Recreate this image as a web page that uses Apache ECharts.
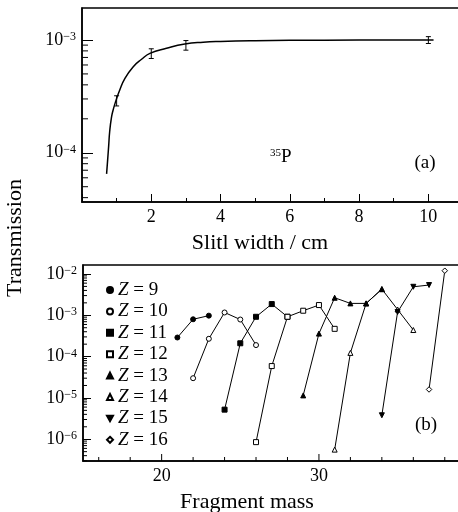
<!DOCTYPE html>
<html>
<head>
<meta charset="utf-8">
<title>Transmission</title>
<script src="https://cdn.jsdelivr.net/npm/echarts@6/dist/echarts.min.js"></script>
<style>
body { margin: 0; background: #fff; }
#main { width: 458px; height: 512px; }
</style>
</head>
<body>
<div id="main"></div>
<script>
var FONT = "'Liberation Serif', 'Times New Roman', serif";

// (a) slit width scan for 35P
var slitWidth = [1, 2, 3, 10];
var slitTrans = [2.9e-4, 7.6e-4, 9.0e-4, 1.0e-3];
var slitErr = [0.3e-4, 0.75e-4, 0.88e-4, 0.7e-4];
var curveWidth = [0.71, 0.74, 0.77, 0.8, 0.85, 0.9, 0.97, 1.09, 1.24, 1.48, 1.72, 1.96, 2.44, 2.97, 3.5, 4, 5, 6, 8, 10.15];
var curveTrans = [6.5e-5, 8.6e-5, 1.15e-4, 1.55e-4, 2.05e-4, 2.4e-4, 2.84e-4, 3.6e-4, 4.57e-4, 5.8e-4, 6.74e-4, 7.6e-4, 8.44e-4, 9.2e-4, 9.55e-4, 9.7e-4, 9.85e-4, 9.92e-4, 9.97e-4, 1.0e-3];

// (b) transmission vs fragment mass, one list per Z
var zNames = ['Z = 9', 'Z = 10', 'Z = 11', 'Z = 12', 'Z = 13', 'Z = 14', 'Z = 15', 'Z = 16'];
var z9 = [[21, 2.9e-4], [22, 8.0e-4], [23, 9.8e-4]];
var z10 = [[22, 3.0e-5], [23, 2.7e-4], [24, 1.17e-3], [25, 7.9e-4], [26, 1.9e-4]];
var z11 = [[24, 5.2e-6], [25, 2.1e-4], [26, 9.2e-4], [27, 1.87e-3], [28, 9.2e-4]];
var z12 = [[26, 8.5e-7], [27, 5.9e-5], [28, 9.2e-4], [29, 1.29e-3], [30, 1.77e-3], [31, 4.7e-4]];
var z13 = [[29, 1.15e-5], [30, 3.6e-4], [31, 2.66e-3], [32, 1.94e-3], [33, 1.94e-3], [34, 4.3e-3]];
var z14 = [[31, 5.6e-7], [32, 1.23e-4], [33, 1.94e-3], [34, 4.3e-3], [35, 1.38e-3], [36, 4.4e-4]];
var z15 = [[34, 3.8e-6], [35, 1.2e-3], [36, 4.9e-3], [37, 5.4e-3]];
var z16 = [[37, 1.6e-5], [38, 1.2e-2]];
var zData = [z9, z10, z11, z12, z13, z14, z15, z16];

// ticks the axes can't draw by themselves
var topMinorY = [4e-5, 5e-5, 6e-5, 7e-5, 8e-5, 9e-5, 2e-4, 3e-4, 4e-4, 5e-4, 6e-4, 7e-4, 8e-4, 9e-4];
var botMinorY = [];
[-7, -6, -5, -4, -3].forEach(function (e) {
  for (var m = 2; m <= 9; m++) {
    var v = m * Math.pow(10, e);
    if (v > 2.97e-7 && v < 1.65e-2) botMinorY.push(v);
  }
});
var botXTicks = [16, 18, 20, 22, 24, 26, 28, 30, 32, 34, 36, 38];

var downTri = 'path://M0,0L10,0L5,9Z';
var zSymbols = ['circle', 'circle', 'rect', 'rect', 'triangle', 'triangle', downTri, 'diamond'];
var zFilled = [true, false, true, false, true, false, true, false];

function powLabel(v) {
  var e = Math.log10(v);
  var r = Math.round(e);
  if (Math.abs(e - r) > 1e-6) return '';
  return '10{s|\u2212' + (-r) + '}';
}

var labelStyle = {
  color: '#000', fontFamily: FONT, fontSize: 18,
  rich: { s: { fontSize: 12, fontFamily: FONT, color: '#000', verticalAlign: 'top' } }
};

function yTickSeries(xi, yi, x0, vals, len) {
  return {
    type: 'custom', xAxisIndex: xi, yAxisIndex: yi, silent: true, clip: false, z: 5,
    data: vals.map(function (v) { return [x0, v]; }),
    renderItem: function (params, api) {
      var p = api.coord([api.value(0), api.value(1)]);
      return { type: 'line', shape: { x1: p[0], y1: p[1], x2: p[0] + len, y2: p[1] },
        style: { stroke: '#000', lineWidth: 1 } };
    }
  };
}

var series = [];

// fitted curve (a)
series.push({
  type: 'line', xAxisIndex: 0, yAxisIndex: 0, showSymbol: false, smooth: 0.5,
  data: curveWidth.map(function (x, i) { return [x, curveTrans[i]]; }),
  lineStyle: { color: '#000', width: 1.5 }, silent: true
});

// error bars (a)
series.push({
  type: 'custom', xAxisIndex: 0, yAxisIndex: 0, silent: true, z: 4,
  data: slitWidth.map(function (x, i) { return [x, slitTrans[i] - slitErr[i], slitTrans[i] + slitErr[i]]; }),
  renderItem: function (params, api) {
    var lo = api.coord([api.value(0), api.value(1)]);
    var hi = api.coord([api.value(0), api.value(2)]);
    var st = { stroke: '#000', lineWidth: 1 };
    return { type: 'group', children: [
      { type: 'line', shape: { x1: lo[0], y1: lo[1], x2: hi[0], y2: hi[1] }, style: st },
      { type: 'line', shape: { x1: lo[0] - 2.5, y1: lo[1], x2: lo[0] + 2.5, y2: lo[1] }, style: st },
      { type: 'line', shape: { x1: hi[0] - 2.5, y1: hi[1], x2: hi[0] + 2.5, y2: hi[1] }, style: st }
    ] };
  }
});

series.push(yTickSeries(0, 0, 0, topMinorY, 6));
series.push(yTickSeries(1, 1, 15, botMinorY, 4));

// x ticks (b)
series.push({
  type: 'custom', xAxisIndex: 1, yAxisIndex: 1, silent: true, clip: false, z: 5,
  data: botXTicks.map(function (v) { return [v, 2.97e-7]; }),
  renderItem: function (params, api) {
    var p = api.coord([api.value(0), api.value(1)]);
    var len = api.value(0) % 10 === 0 ? 7 : 4;
    return { type: 'line', shape: { x1: p[0], y1: p[1], x2: p[0], y2: p[1] - len },
      style: { stroke: '#000', lineWidth: 1 } };
  }
});

zNames.forEach(function (name, i) {
  series.push({
    name: name, type: 'line', xAxisIndex: 1, yAxisIndex: 1,
    data: zData[i], symbol: zSymbols[i], symbolSize: i === 7 ? 5.5 : 5,
    z: i === 4 ? 3 : 2,
    lineStyle: { color: '#000', width: 1 },
    itemStyle: { color: zFilled[i] ? '#000' : '#fff', borderColor: '#000', borderWidth: 1 },
    emphasis: { disabled: true }
  });
});

var axisLine = { show: true, lineStyle: { color: '#000', width: 1.5 } };

var option = {
  animation: false,
  grid: [
    { left: 82, top: 8, width: 381, height: 194, outerBoundsMode: 'none', containLabel: false,
      show: true, borderColor: '#000', borderWidth: 1.5 },
    { left: 83, top: 265, width: 377.5, height: 196, outerBoundsMode: 'none', containLabel: false,
      show: true, borderColor: '#000', borderWidth: 1.5 }
  ],
  xAxis: [
    {
      gridIndex: 0, type: 'value', min: 0, max: 11, interval: 2,
      axisLine: axisLine,
      axisTick: { inside: true, length: 8, lineStyle: { color: '#000' } },
      minorTick: { show: true, splitNumber: 2, length: 4, lineStyle: { color: '#000' } },
      axisLabel: { margin: 6, color: '#000', fontFamily: FONT, fontSize: 18,
        formatter: function (v) { return v > 0 && v <= 10 ? String(v) : ''; } },
      splitLine: { show: false }, minorSplitLine: { show: false }
    },
    {
      gridIndex: 1, type: 'value', min: 15, max: 39, interval: 5,
      axisLine: axisLine, axisTick: { show: false },
      axisLabel: { margin: 6, color: '#000', fontFamily: FONT, fontSize: 18,
        formatter: function (v) { return v % 10 === 0 ? String(v) : ''; } },
      splitLine: { show: false }
    }
  ],
  yAxis: [
    {
      gridIndex: 0, type: 'log', logBase: 10, min: 3.66e-5, max: 1.92e-3,
      axisLine: axisLine,
      axisTick: { inside: true, length: 11, lineStyle: { color: '#000' } },
      axisLabel: Object.assign({ margin: 6, formatter: powLabel, showMinLabel: false, showMaxLabel: false }, labelStyle),
      splitLine: { show: false }
    },
    {
      gridIndex: 1, type: 'log', logBase: 10, min: 2.97e-7, max: 1.65e-2,
      axisLine: axisLine,
      axisTick: { inside: true, length: 8, lineStyle: { color: '#000' } },
      axisLabel: Object.assign({ margin: 6, formatter: powLabel, showMinLabel: false, showMaxLabel: false }, labelStyle),
      splitLine: { show: false }
    }
  ],
  legend: {
    data: zNames.map(function (n, i) { return { name: n, icon: zSymbols[i] }; }),
    orient: 'vertical', left: 101, top: 275,
    itemWidth: 6, itemHeight: 6, itemGap: 1.4, selectedMode: false,
    formatter: function (n) { return '{i|Z}' + n.slice(1); },
    textStyle: {
      color: '#000', fontFamily: FONT, fontSize: 19, lineHeight: 20,
      rich: { i: { fontStyle: 'italic', fontFamily: FONT, fontSize: 19, color: '#000' } }
    }
  },
  graphic: [
    { type: 'text', x: 15, y: 238, rotation: Math.PI / 2,
      style: { text: 'Transmission', fontFamily: FONT, fontSize: 22, fill: '#000', align: 'center', verticalAlign: 'middle' } },
    { type: 'text', x: 260, y: 243,
      style: { text: 'Slitl width / cm', fontFamily: FONT, fontSize: 22, fill: '#000', align: 'center', verticalAlign: 'middle' } },
    { type: 'text', x: 247, y: 502,
      style: { text: 'Fragment mass', fontFamily: FONT, fontSize: 22, fill: '#000', align: 'center', verticalAlign: 'middle' } },
    { type: 'text', x: 270, y: 148,
      style: { text: '{s|35}P', fontFamily: FONT, fontSize: 19, fill: '#000',
        rich: { s: { fontSize: 11, fontFamily: FONT, verticalAlign: 'top', fill: '#000' } } } },
    { type: 'text', x: 425, y: 163,
      style: { text: '(a)', fontFamily: FONT, fontSize: 19, fill: '#000', align: 'center', verticalAlign: 'middle' } },
    { type: 'text', x: 426, y: 425,
      style: { text: '(b)', fontFamily: FONT, fontSize: 19, fill: '#000', align: 'center', verticalAlign: 'middle' } }
  ],
  series: series
};

var chart = echarts.init(document.getElementById('main'));
chart.setOption(option);
</script>
</body>
</html>
